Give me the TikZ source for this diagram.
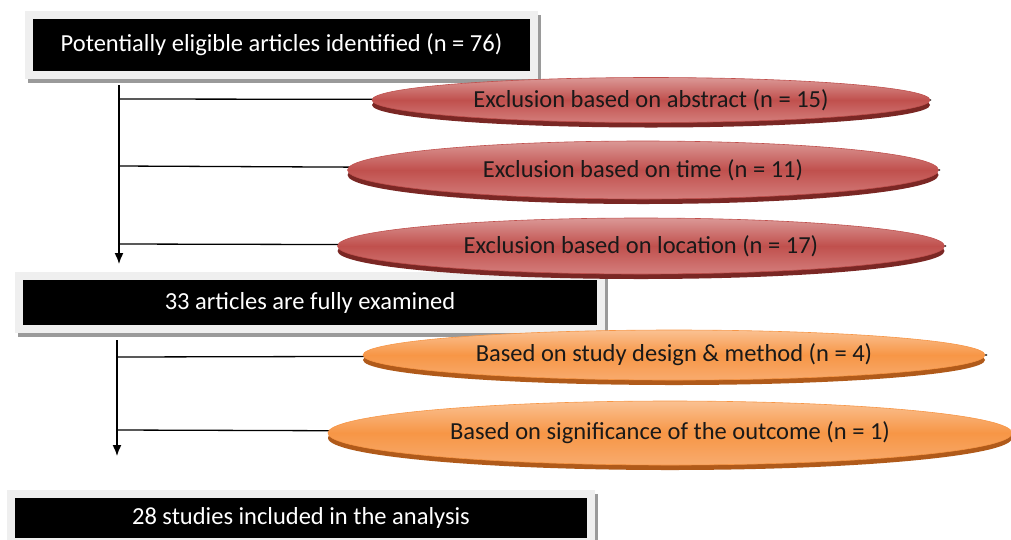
\documentclass[tikz,border=0pt]{standalone}
\usepackage{fontspec}
\setmainfont{Carlito}
\usetikzlibrary{shapes.geometric,shadows,arrows.meta}

\definecolor{frameg}{HTML}{EFEFEF}
\definecolor{shadeg}{HTML}{9A9A9A}
\definecolor{redtop}{HTML}{DB9896}
\definecolor{redmid}{HTML}{C0504D}
\definecolor{redbot}{HTML}{D47E7C}
\definecolor{redshadow}{HTML}{7A2724}
\definecolor{orgtop}{HTML}{FAC192}
\definecolor{orgmid}{HTML}{F79646}
\definecolor{orgbot}{HTML}{F8AB6E}
\definecolor{orgshadow}{HTML}{B05A1A}

\tikzset{
  labelfont/.style={font=\fontsize{24.5}{28}\selectfont},
  stagebox/.style={rectangle, fill=black, draw=frameg, line width=8pt,
    text=white, labelfont, inner sep=0pt,
    drop shadow={shadow xshift=3pt, shadow yshift=-4pt, fill=shadeg,
      draw=shadeg, line width=8pt, opacity=1}},
  exclred/.style={ellipse, inner sep=0pt, draw=redmid, line width=0.6pt,
    top color=redtop, bottom color=redbot, middle color=redmid,
    text=black!90, labelfont,
    drop shadow={shadow xshift=0pt, shadow yshift=-5pt, fill=redshadow, opacity=1}},
  exclorange/.style={ellipse, inner sep=0pt, draw=orgmid, line width=0.6pt,
    top color=orgtop, bottom color=orgbot, middle color=orgmid,
    text=black!90, labelfont,
    drop shadow={shadow xshift=0pt, shadow yshift=-5pt, fill=orgshadow, opacity=1}},
  link/.style={line width=1.3pt, draw=black},
  flow/.style={line width=1.5pt, draw=black, -{Latex[length=11pt,width=9pt]}}
}

\begin{document}
\begin{tikzpicture}[x=1pt,y=-1pt]
\useasboundingbox (0,0) rectangle (1011,539);

% stage boxes
\node[stagebox, minimum width=505pt, minimum height=60pt] (s1) at (281.5,45)
  {Potentially eligible articles identified (n = 76)};
\node[stagebox, minimum width=582pt, minimum height=53pt] (s2) at (310,302.5)
  {33 articles are fully examined};
\node[stagebox, minimum width=580pt, minimum height=48pt] (s3) at (301,518)
  {28 studies included in the analysis};

% branch points on the main flow lines
\coordinate (v1top) at (119,85);
\coordinate (v1end) at (119,264);
\coordinate (b1) at (119,99);
\coordinate (b2) at (119,166);
\coordinate (b3) at (119,244);
\coordinate (v2top) at (117,340);
\coordinate (v2end) at (117,456);
\coordinate (b4) at (117,357);
\coordinate (b5) at (117,430);

% exclusion ellipse positions
\path (651,100) coordinate (e1c);
\path (643,170) coordinate (e2c);
\path (641,246) coordinate (e3c);
\path (674,355) coordinate (e4c);
\path (670,433) coordinate (e5c);

% links run underneath the ellipses to their right ends
\draw[link] (b1) -- (931,100);
\draw[link] (b2) -- (940,170);
\draw[link] (b3) -- (946,246);
\draw[link] (b4) -- (987,355);
\draw[link] (b5) -- (1011,433);

\draw[flow] (v1top) -- (v1end);
\draw[flow] (v2top) -- (v2end);

% exclusion ellipses
\node[exclred, minimum width=558pt, minimum height=45pt] (e1) at (e1c)
  {Exclusion based on abstract (n = 15)};
\node[exclred, minimum width=591pt, minimum height=58pt] (e2) at (e2c)
  {Exclusion based on time (n = 11)};
\node[exclred, minimum width=607pt, minimum height=56pt] (e3) at (e3c)
  {Exclusion based on location (n = 17)};
\node[exclorange, minimum width=622pt, minimum height=50pt] (e4) at (e4c)
  {Based on study design \& method (n = 4)};
\node[exclorange, minimum width=684pt, minimum height=64pt] (e5) at (e5c)
  {Based on significance of the outcome (n = 1)};

\end{tikzpicture}
\end{document}
